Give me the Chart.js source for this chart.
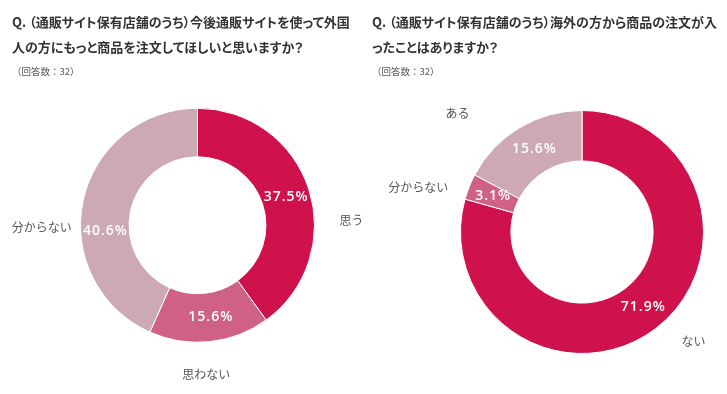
<!DOCTYPE html>
<html><head><meta charset="utf-8">
<script src="https://cdn.jsdelivr.net/npm/chart.js@4"></script>
<style>
html,body{margin:0;padding:0;background:#fff;}
body{width:727px;height:394px;position:relative;overflow:hidden;font-family:"Noto Sans CJK JP","Noto Sans",sans-serif;}
.panel{position:absolute;top:0;height:394px;}
.panel canvas{position:absolute;left:0;top:0;}
.title{position:absolute;font-size:13px;font-weight:bold;color:#333;line-height:25px;white-space:nowrap;font-feature-settings:"palt";z-index:2;}
.sub{position:absolute;font-size:9.5px;color:#555;white-space:nowrap;z-index:2;}
</style></head><body>
<div class="panel" id="p1" style="left:0;width:364px;">
  <canvas id="c1" width="364" height="394"></canvas>
  <div class="title" style="left:12px;top:9px;">Q.&nbsp;（通販サイト保有店舗のうち）今後通販サイトを使って外国<br>人の方にもっと商品を注文してほしいと思いますか？</div>
  <div class="sub" style="left:12px;top:64px;">（回答数：32）</div>
</div>
<div class="panel" id="p2" style="left:364px;width:363px;">
  <canvas id="c2" width="363" height="394"></canvas>
  <div class="title" style="left:8px;top:9px;">Q.&nbsp;（通販サイト保有店舗のうち）海外の方から商品の注文が入<br>ったことはありますか？</div>
  <div class="sub" style="left:8px;top:64px;">（回答数：32）</div>
</div>
<script>
// ---- data ----
const leftCategories = ["思う", "思わない", "分からない"];
const leftValues = [37.5, 15.6, 40.6];
const rightCategories = ["ない", "分からない", "ある"];
const rightValues = [71.9, 3.1, 15.6];

const C_DARK = "#CF114C", C_MID = "#CF6187", C_LIGHT = "#CCA9B5";

const labelPlugin = {
  id: "ringLabels",
  afterDatasetsDraw(chart, args, opts) {
    const ctx = chart.ctx;
    const meta = chart.getDatasetMeta(0);
    const ds = chart.data.datasets[0];
    meta.data.forEach((arc, i) => {
      const p = arc.getProps(["x","y","startAngle","endAngle","innerRadius","outerRadius"], true);
      const mid = (p.startAngle + p.endAngle) / 2;
      const a1 = mid + (opts.innerShift[i] || 0) * Math.PI / 180;
      const rm = (p.innerRadius + p.outerRadius) / 2;
      ctx.save();
      ctx.font = "600 14px 'Open Sans', 'Noto Sans', sans-serif";
      ctx.letterSpacing = "1px";
      ctx.fillStyle = "#fff";
      ctx.textAlign = "center";
      ctx.textBaseline = "middle";
      ctx.fillText(ds.data[i].toFixed(1) + "%", p.x + Math.cos(a1) * rm + 0.5, p.y + Math.sin(a1) * rm);
      ctx.restore();
      const a2 = mid + (opts.outerShift[i] || 0) * Math.PI / 180;
      const ro = p.outerRadius * opts.outerDist[i];
      ctx.save();
      ctx.font = "12px 'Noto Sans CJK JP', sans-serif";
      ctx.fillStyle = "#555";
      ctx.textAlign = "center";
      ctx.textBaseline = "middle";
      ctx.fillText(chart.data.labels[i], p.x + Math.cos(a2) * ro, p.y + Math.sin(a2) * ro);
      ctx.restore();
    });
  }
};

function makeChart(id, labels, values, colors, padding, ringOpts) {
  return new Chart(document.getElementById(id), {
    type: "doughnut",
    data: { labels: labels, datasets: [{ data: values, backgroundColor: colors, borderColor: "#fff", borderWidth: 1 }] },
    options: {
      responsive: false, animation: false, cutout: "58.5%",
      layout: { padding: padding },
      plugins: { legend: { display: false }, tooltip: { enabled: false }, ringLabels: ringOpts }
    },
    plugins: [labelPlugin]
  });
}

makeChart("c1", leftCategories, leftValues, [C_DARK, C_MID, C_LIGHT],
  { left: 80, right: 49, top: 107.5, bottom: 51 },
  { innerShift: [0, -2, -15.5], outerShift: [16, 2.6, -12.7], outerDist: [1.316, 1.279, 1.332] });

makeChart("c2", rightCategories, rightValues, [C_DARK, C_MID, C_LIGHT],
  { left: 96, right: 23, top: 110, bottom: 40 },
  { innerShift: [-2, 0, 1], outerShift: [-8.3, -6.5, -15.4], outerDist: [1.287, 1.398, 1.415] });
</script>
</body></html>
